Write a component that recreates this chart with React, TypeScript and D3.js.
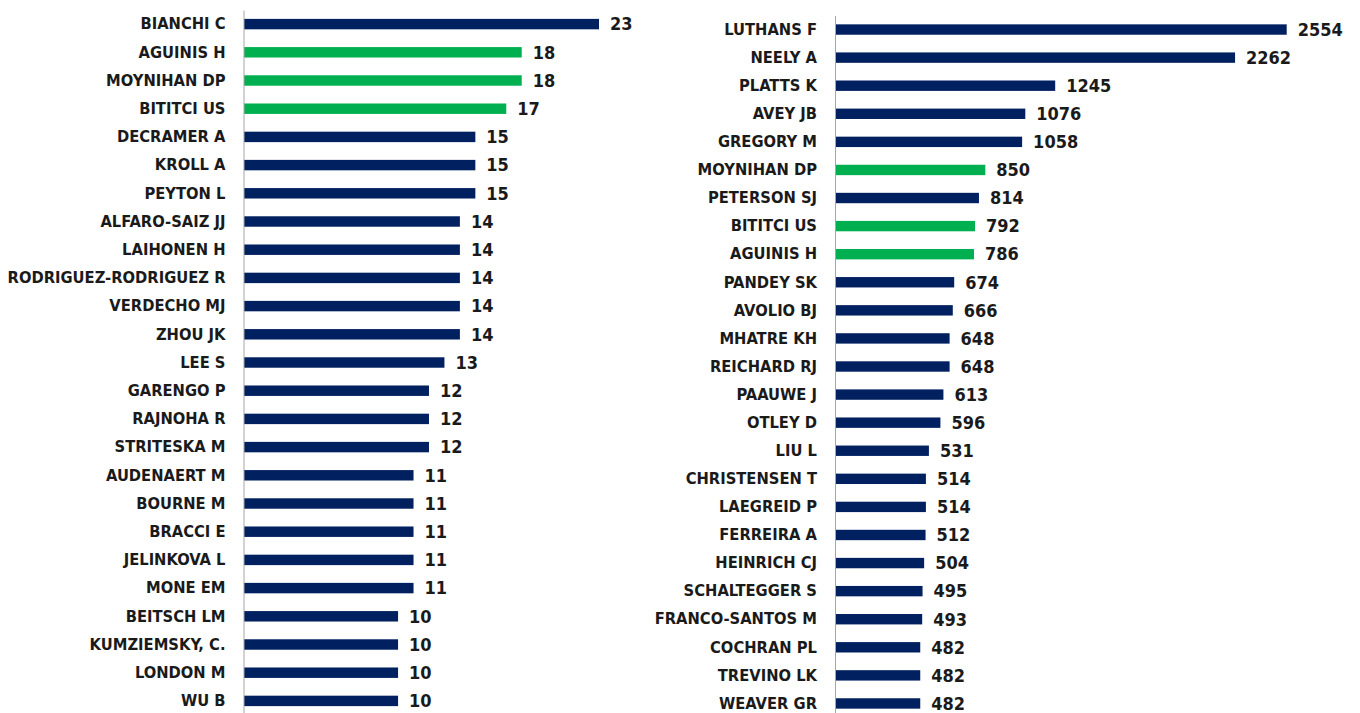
import React, {useEffect, useRef} from 'react';
import * as d3 from 'd3';

const width = 1360;
const height = 713;
const navy = '#002060';
const green = '#00B050';
const fontFamily = '"DejaVu Sans Condensed", "DejaVu Sans", sans-serif';

// left panel
const leftNames = [
    'BIANCHI C', 'AGUINIS H', 'MOYNIHAN DP', 'BITITCI US', 'DECRAMER A', 'KROLL A', 'PEYTON L',
    'ALFARO-SAIZ JJ', 'LAIHONEN H', 'RODRIGUEZ-RODRIGUEZ R', 'VERDECHO MJ', 'ZHOU JK', 'LEE S',
    'GARENGO P', 'RAJNOHA R', 'STRITESKA M', 'AUDENAERT M', 'BOURNE M', 'BRACCI E', 'JELINKOVA L',
    'MONE EM', 'BEITSCH LM', 'KUMZIEMSKY, C.', 'LONDON M', 'WU B',
];
const leftValues = [23, 18, 18, 17, 15, 15, 15, 14, 14, 14, 14, 14, 13, 12, 12, 12, 11, 11, 11, 11, 11, 10, 10, 10, 10];

// right panel
const rightNames = [
    'LUTHANS F', 'NEELY A', 'PLATTS K', 'AVEY JB', 'GREGORY M', 'MOYNIHAN DP', 'PETERSON SJ',
    'BITITCI US', 'AGUINIS H', 'PANDEY SK', 'AVOLIO BJ', 'MHATRE KH', 'REICHARD RJ', 'PAAUWE J',
    'OTLEY D', 'LIU L', 'CHRISTENSEN T', 'LAEGREID P', 'FERREIRA A', 'HEINRICH CJ', 'SCHALTEGGER S',
    'FRANCO-SANTOS M', 'COCHRAN PL', 'TREVINO LK', 'WEAVER GR',
];
const rightValues = [2554, 2262, 1245, 1076, 1058, 850, 814, 792, 786, 674, 666, 648, 648, 613, 596, 531, 514, 514, 512, 504, 495, 493, 482, 482, 482];

// highlighted authors (appear in both lists)
const highlighted = ['AGUINIS H', 'MOYNIHAN DP', 'BITITCI US'];

const panels = [
    {names: leftNames, values: leftValues, x0: 243.5, x1: 599, max: 23, y0: 10, y1: 715},
    {names: rightNames, values: rightValues, x0: 835, x1: 1286.7, max: 2554, y0: 15.5, y1: 717.5},
];

function drawPanel(g, p) {
    const data = p.names.map((n, i) => ({name: n, value: p.values[i]}));
    const x = d3.scaleLinear().domain([0, p.max]).range([p.x0, p.x1]);
    const y = d3.scaleBand().domain(p.names).range([p.y0, p.y1]).paddingInner(0.63).paddingOuter(0.315);

    g.selectAll('rect').data(data).join('rect')
        .attr('x', x(0) + 0.5)
        .attr('y', d => y(d.name))
        .attr('width', d => x(d.value) - x(0) - 0.5)
        .attr('height', y.bandwidth())
        .attr('fill', d => highlighted.includes(d.name) ? green : navy);

    g.selectAll('text.val').data(data).join('text')
        .attr('class', 'val')
        .attr('x', d => x(d.value) + 11)
        .attr('y', d => y(d.name) + y.bandwidth() / 2)
        .attr('dy', '0.35em')
        .attr('font-family', fontFamily)
        .attr('font-weight', 'bold')
        .attr('font-size', 18)
        .attr('fill', '#1a1a1a')
        .text(d => d.value);

    const axis = d3.axisLeft(y).tickSize(0).tickSizeOuter(0).tickPadding(18);
    const ag = g.append('g').attr('transform', `translate(${p.x0},0)`).call(axis);
    ag.select('.domain').attr('stroke', '#a6a6a6').attr('stroke-width', 1);
    ag.selectAll('text')
        .attr('font-family', fontFamily)
        .attr('font-weight', 'bold')
        .attr('font-size', 16.4)
        .attr('fill', '#1a1a1a');
}

export default function App() {
    const ref = useRef(null);

    useEffect(() => {
        const svg = d3.select(ref.current);
        svg.selectAll('*').remove();
        for (const p of panels) {
            drawPanel(svg.append('g'), p);
        }
    }, []);

    return (
        <svg ref={ref} width={width} height={height}
             style={{position: 'absolute', left: 0, top: 0, background: '#fff'}}/>
    );
}
